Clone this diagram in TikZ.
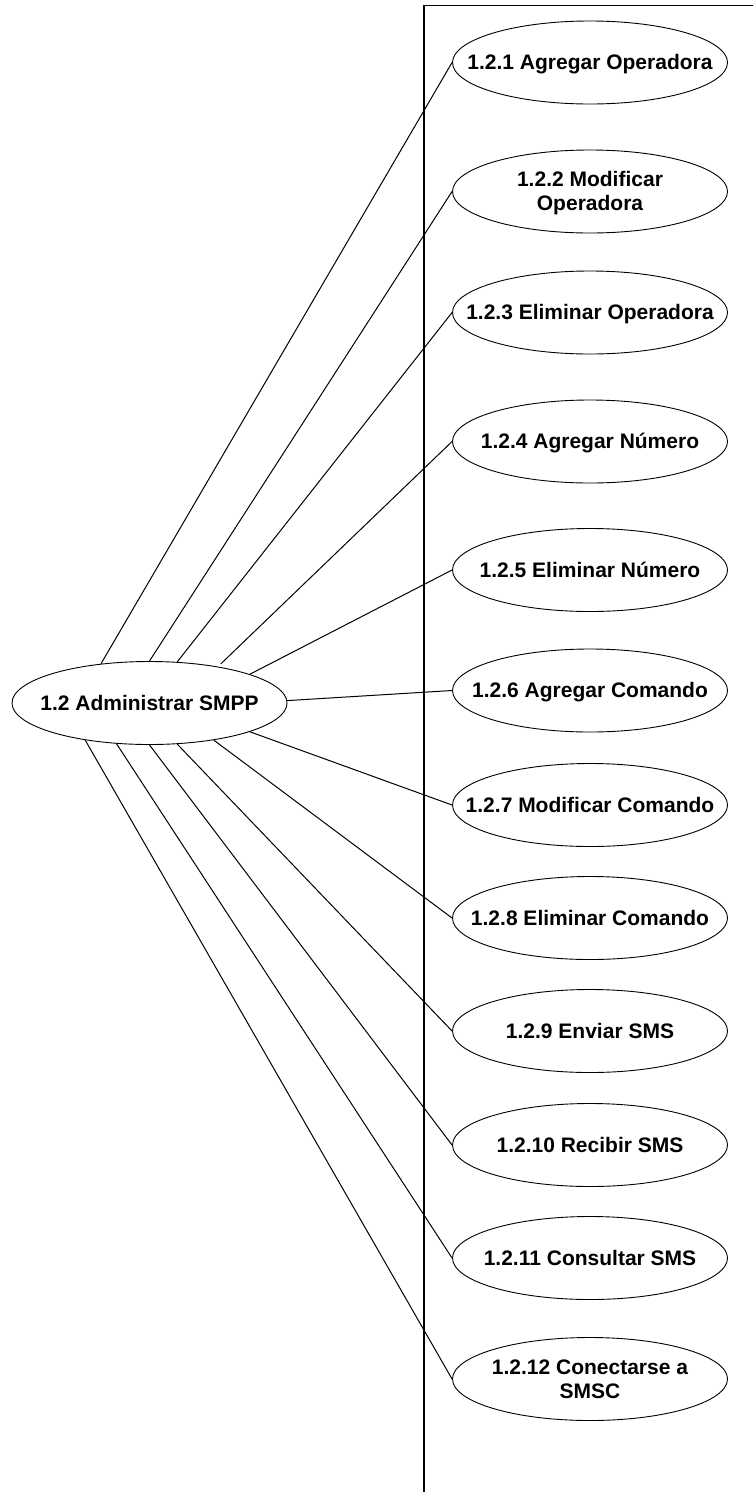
\documentclass[tikz,border=0pt]{standalone}
\usepackage{fontspec}
\setmainfont{Liberation Sans}
\usetikzlibrary{shapes.geometric}
\newcommand\uctext[1]{\makebox[0pt]{\raisebox{-2.6pt}[\height][\depth]{\begin{tabular}{@{}c@{}}#1\end{tabular}}}}
\tikzset{
  usecase/.style={ellipse, draw, line width=0.9pt, minimum width=275pt, minimum height=83pt,
    inner sep=0pt, font=\fontsize{21}{24}\selectfont\bfseries},
  link/.style={line width=1pt},
  sysbound/.style={line width=1.8pt}
}
\begin{document}
\begin{tikzpicture}[x=1pt,y=-1pt]
\useasboundingbox (0,0) rectangle (753,1492);
\clip (0,0) rectangle (753,1492);
\fill[white] (0,0) rectangle (753,1492);
\draw[sysbound] (424,1500) -- (424,5.5) -- (760,5.5);

\node[usecase] (m) at (149.5,703) {\uctext{1.2 Administrar SMPP}};

\node[usecase] (t1)  at (590,62.5)  {\uctext{1.2.1 Agregar Operadora}};
\node[usecase] (t2)  at (590,191.5) {\uctext{1.2.2 Modificar\\Operadora}};
\node[usecase] (t3)  at (590,312.5) {\uctext{1.2.3 Eliminar Operadora}};
\node[usecase] (t4)  at (590,441.5) {\uctext{1.2.4 Agregar Número}};
\node[usecase] (t5)  at (590,570)   {\uctext{1.2.5 Eliminar Número}};
\node[usecase] (t6)  at (590,690.5) {\uctext{1.2.6 Agregar Comando}};
\node[usecase] (t7)  at (590,805)   {\uctext{1.2.7 Modificar Comando}};
\node[usecase] (t8)  at (590,918)   {\uctext{1.2.8 Eliminar Comando}};
\node[usecase] (t9)  at (590,1031)  {\uctext{1.2.9 Enviar SMS}};
\node[usecase] (t10) at (590,1145)  {\uctext{1.2.10 Recibir SMS}};
\node[usecase] (t11) at (590,1258)  {\uctext{1.2.11 Consultar SMS}};
\node[usecase] (t12) at (590,1379)  {\uctext{1.2.12 Conectarse a\\SMSC}};

\draw[link] (m.141.6) -- (t1.west);
\draw[link] (m.90) -- (t2.west);
\draw[link] (m.56.3) -- (t3.west);
\draw[link, shorten <=4pt] (m.28) -- (t4.west);
\draw[link] (m.16.6) -- (t5.west);
\draw[link] (m.1) -- (t6.west);
\draw[link] (m.-16.6) -- (t7.west);
\draw[link] (m.-30.4) -- (t8.west);
\draw[link] (m.-56.3) -- (t9.west);
\draw[link] (m.-90) -- (t10.west);
\draw[link] (m.231.5) -- (t11.west);
\draw[link] (m.210.9) -- (t12.west);
\end{tikzpicture}
\end{document}
